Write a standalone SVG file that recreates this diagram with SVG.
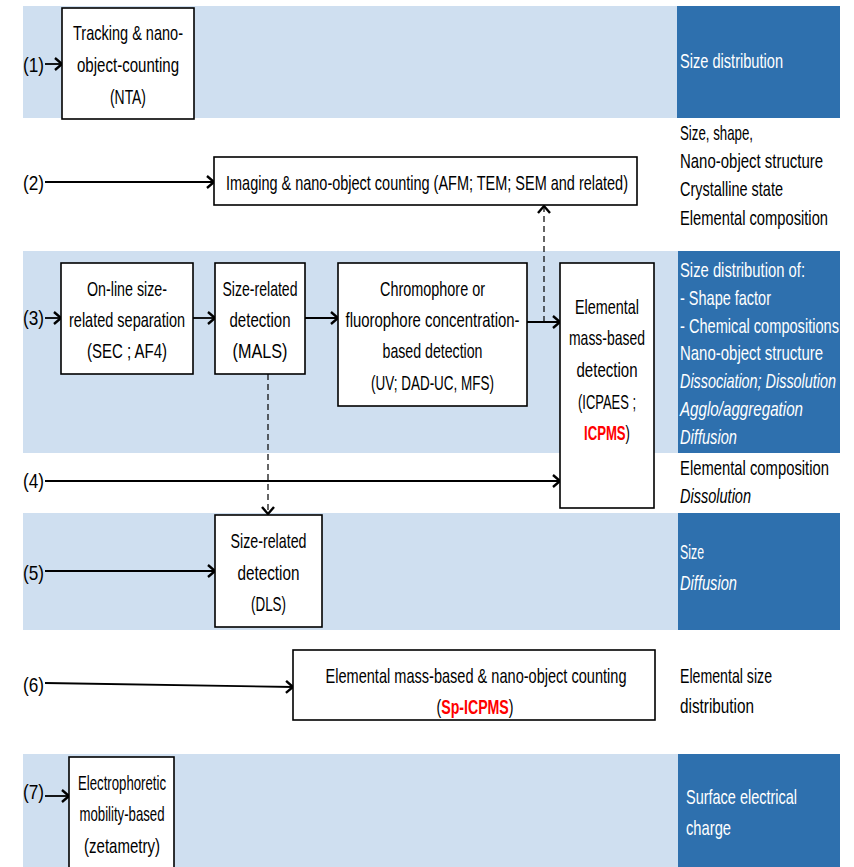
<svg xmlns="http://www.w3.org/2000/svg" width="854" height="867" viewBox="0 0 854 867">
  <style>
    .band { fill: #cfdff0; }
    .dark { fill: #2e70ae; }
    .box { fill: #fff; stroke: #000; stroke-width: 1.6; }
    .t { font-family: "Liberation Sans", Arial, sans-serif; font-size: 21px; fill: #000; }
    .m { text-anchor: middle; }
    .w { fill: #fff; }
    .i { font-style: italic; }
    .red { fill: #ff0000; font-weight: bold; }
    .ln { stroke: #000; stroke-width: 1.8; fill: none; marker-end: url(#chev); }
    .dash { stroke: #000; stroke-width: 1.2; stroke-dasharray: 6 4; fill: none; marker-end: url(#chev); }
  </style>
  <defs>
    <marker id="chev" markerUnits="userSpaceOnUse" markerWidth="12" markerHeight="14" refX="9" refY="7" orient="auto">
      <path d="M2,1 L9,7 L2,13" fill="none" stroke="#000" stroke-width="2.4"/>
    </marker>
  </defs>

  <!-- background bands -->
  <g id="bands">
    <rect class="band" x="23" y="6" width="654" height="112"/>
    <rect class="dark" x="677" y="6" width="163" height="112"/>
    <rect class="band" x="23" y="251" width="655" height="202"/>
    <rect class="dark" x="678" y="251" width="162" height="202"/>
    <rect class="band" x="23" y="513" width="655" height="117"/>
    <rect class="dark" x="678" y="513" width="162" height="117"/>
    <rect class="band" x="23" y="754" width="655" height="113"/>
    <rect class="dark" x="678" y="754" width="162" height="113"/>
  </g>

  <!-- row labels -->
  <g id="labels" class="t">
    <text x="23" y="72" textLength="21" lengthAdjust="spacingAndGlyphs">(1)</text>
    <text x="23" y="190" textLength="21" lengthAdjust="spacingAndGlyphs">(2)</text>
    <text x="23" y="325" textLength="21" lengthAdjust="spacingAndGlyphs">(3)</text>
    <text x="23" y="488" textLength="21" lengthAdjust="spacingAndGlyphs">(4)</text>
    <text x="23" y="580" textLength="21" lengthAdjust="spacingAndGlyphs">(5)</text>
    <text x="23" y="692" textLength="21" lengthAdjust="spacingAndGlyphs">(6)</text>
    <text x="23" y="799" textLength="21" lengthAdjust="spacingAndGlyphs">(7)</text>
  </g>

  <!-- connectors -->
  <g id="connectors">
    <line class="ln" x1="45" y1="64" x2="62" y2="64"/>
    <line class="ln" x1="45" y1="182" x2="214" y2="182"/>
    <line class="ln" x1="45" y1="318" x2="61" y2="318"/>
    <line class="ln" x1="193" y1="318" x2="215" y2="318"/>
    <line class="ln" x1="305" y1="318" x2="338" y2="318"/>
    <line class="ln" x1="527" y1="322" x2="560" y2="322"/>
    <line class="dash" x1="544" y1="322" x2="544" y2="206"/>
    <line class="dash" x1="268" y1="374" x2="268" y2="514"/>
    <line class="ln" x1="45" y1="481" x2="560" y2="481"/>
    <line class="ln" x1="45" y1="571" x2="215" y2="571"/>
    <line class="ln" x1="45" y1="683" x2="293" y2="687"/>
    <line class="ln" x1="45" y1="796" x2="69" y2="796"/>
  </g>

  <!-- (1) NTA -->
  <g id="nta">
    <rect class="box" x="62" y="8" width="132" height="111"/>
    <text class="t m" x="128" y="40" textLength="110" lengthAdjust="spacingAndGlyphs">Tracking &amp; nano-</text>
    <text class="t m" x="128" y="72" textLength="102" lengthAdjust="spacingAndGlyphs">object-counting</text>
    <text class="t m" x="128" y="104" textLength="36" lengthAdjust="spacingAndGlyphs">(NTA)</text>
  </g>

  <!-- (2) Imaging -->
  <g id="imaging">
    <rect class="box" x="214" y="157" width="423" height="48"/>
    <text class="t m" x="427" y="190" textLength="402" lengthAdjust="spacingAndGlyphs">Imaging &amp; nano-object counting (AFM; TEM; SEM and related)</text>
  </g>

  <!-- (3) chain -->
  <g id="separation">
    <rect class="box" x="61" y="263" width="132" height="111"/>
    <text class="t m" x="127" y="296" textLength="80" lengthAdjust="spacingAndGlyphs">On-line size-</text>
    <text class="t m" x="127" y="327" textLength="116" lengthAdjust="spacingAndGlyphs">related separation</text>
    <text class="t m" x="127" y="358" textLength="80" lengthAdjust="spacingAndGlyphs">(SEC ; AF4)</text>
  </g>
  <g id="mals">
    <rect class="box" x="215" y="263" width="90" height="111"/>
    <text class="t m" x="260" y="296" textLength="75" lengthAdjust="spacingAndGlyphs">Size-related</text>
    <text class="t m" x="260" y="327" textLength="61" lengthAdjust="spacingAndGlyphs">detection</text>
    <text class="t m" x="260" y="358" textLength="55" lengthAdjust="spacingAndGlyphs">(MALS)</text>
  </g>
  <g id="chromophore">
    <rect class="box" x="338" y="263" width="189" height="143"/>
    <text class="t m" x="432.5" y="296" textLength="105" lengthAdjust="spacingAndGlyphs">Chromophore or</text>
    <text class="t m" x="432.5" y="327" textLength="174" lengthAdjust="spacingAndGlyphs">fluorophore concentration-</text>
    <text class="t m" x="432.5" y="358" textLength="100" lengthAdjust="spacingAndGlyphs">based detection</text>
    <text class="t m" x="432.5" y="390" textLength="123" lengthAdjust="spacingAndGlyphs">(UV; DAD-UC, MFS)</text>
  </g>
  <g id="elemental">
    <rect class="box" x="560" y="263" width="94" height="245"/>
    <text class="t m" x="607" y="314" textLength="64" lengthAdjust="spacingAndGlyphs">Elemental</text>
    <text class="t m" x="607" y="345" textLength="76" lengthAdjust="spacingAndGlyphs">mass-based</text>
    <text class="t m" x="607" y="377" textLength="61" lengthAdjust="spacingAndGlyphs">detection</text>
    <text class="t m" x="607" y="409" textLength="58" lengthAdjust="spacingAndGlyphs">(ICPAES ;</text>
    <text class="t m" x="607" y="440" textLength="46" lengthAdjust="spacingAndGlyphs"><tspan class="red">ICPMS</tspan>)</text>
  </g>

  <!-- (5) DLS -->
  <g id="dls">
    <rect class="box" x="215" y="515" width="107" height="112"/>
    <text class="t m" x="268.5" y="548" textLength="76" lengthAdjust="spacingAndGlyphs">Size-related</text>
    <text class="t m" x="268.5" y="580" textLength="62" lengthAdjust="spacingAndGlyphs">detection</text>
    <text class="t m" x="268.5" y="611" textLength="35" lengthAdjust="spacingAndGlyphs">(DLS)</text>
  </g>

  <!-- (6) Sp-ICPMS -->
  <g id="spicpms">
    <rect class="box" x="293" y="650" width="362" height="70"/>
    <text class="t m" x="476" y="683" textLength="301" lengthAdjust="spacingAndGlyphs">Elemental mass-based &amp; nano-object counting</text>
    <text class="t m" x="475" y="714" textLength="77" lengthAdjust="spacingAndGlyphs">(<tspan class="red">Sp-ICPMS</tspan>)</text>
  </g>

  <!-- (7) zetametry -->
  <g id="zeta">
    <rect class="box" x="69" y="757" width="105" height="115"/>
    <text class="t m" x="122" y="790" textLength="88" lengthAdjust="spacingAndGlyphs">Electrophoretic</text>
    <text class="t m" x="122" y="821" textLength="85" lengthAdjust="spacingAndGlyphs">mobility-based</text>
    <text class="t m" x="122" y="853" textLength="76" lengthAdjust="spacingAndGlyphs">(zetametry)</text>
  </g>

  <!-- measured properties -->
  <g id="results" class="t">
    <text class="w" x="680" y="68" textLength="103" lengthAdjust="spacingAndGlyphs">Size distribution</text>

    <text x="680" y="140" textLength="73" lengthAdjust="spacingAndGlyphs">Size, shape,</text>
    <text x="680" y="168" textLength="143" lengthAdjust="spacingAndGlyphs">Nano-object structure</text>
    <text x="680" y="196" textLength="103" lengthAdjust="spacingAndGlyphs">Crystalline state</text>
    <text x="680" y="225" textLength="148" lengthAdjust="spacingAndGlyphs">Elemental composition</text>

    <text class="w" x="680" y="277" textLength="125" lengthAdjust="spacingAndGlyphs">Size distribution of:</text>
    <text class="w" x="680" y="305" textLength="91" lengthAdjust="spacingAndGlyphs">- Shape factor</text>
    <text class="w" x="680" y="333" textLength="159" lengthAdjust="spacingAndGlyphs">- Chemical compositions</text>
    <text class="w" x="680" y="360" textLength="143" lengthAdjust="spacingAndGlyphs">Nano-object structure</text>
    <text class="w i" x="680" y="388" textLength="156" lengthAdjust="spacingAndGlyphs">Dissociation; Dissolution</text>
    <text class="w i" x="680" y="416" textLength="123" lengthAdjust="spacingAndGlyphs">Agglo/aggregation</text>
    <text class="w i" x="680" y="444" textLength="57" lengthAdjust="spacingAndGlyphs">Diffusion</text>

    <text x="680" y="475" textLength="149" lengthAdjust="spacingAndGlyphs">Elemental composition</text>
    <text class="i" x="680" y="503" textLength="71" lengthAdjust="spacingAndGlyphs">Dissolution</text>

    <text class="w" x="680" y="559" textLength="24" lengthAdjust="spacingAndGlyphs">Size</text>
    <text class="w i" x="680" y="590" textLength="57" lengthAdjust="spacingAndGlyphs">Diffusion</text>

    <text x="680" y="683" textLength="92" lengthAdjust="spacingAndGlyphs">Elemental size</text>
    <text x="680" y="713" textLength="74" lengthAdjust="spacingAndGlyphs">distribution</text>

    <text class="w" x="686" y="804" textLength="111" lengthAdjust="spacingAndGlyphs">Surface electrical</text>
    <text class="w" x="686" y="835" textLength="45" lengthAdjust="spacingAndGlyphs">charge</text>
  </g>
</svg>
